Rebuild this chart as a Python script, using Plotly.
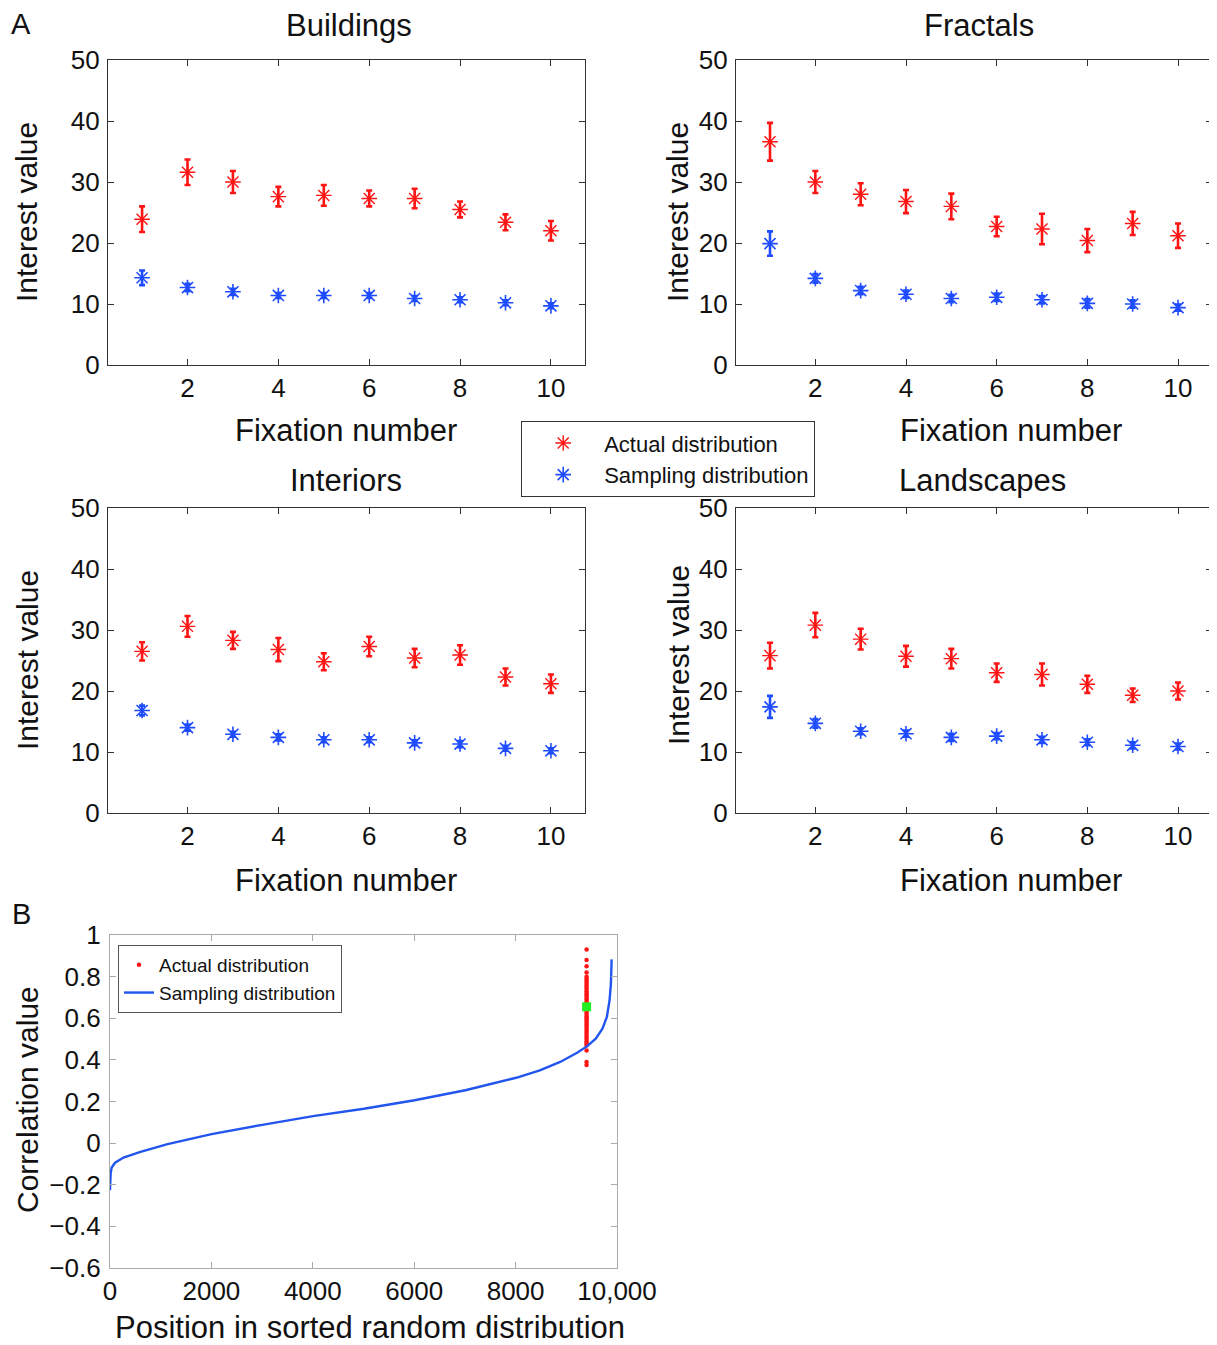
import plotly.graph_objects as go

# The page body has an 8px margin, so the figure is sized and laid out
# in screenshot pixels minus that offset.
OFF = 8
W, H = 1217 - OFF, 1345 - OFF
FONT = "Liberation Sans, Arial, Helvetica, sans-serif"
RED = "#ff1414"
BLUE = "#1f4cff"

fixation = [1, 2, 3, 4, 5, 6, 7, 8, 9, 10]

buildings_actual = [23.9, 31.6, 30.0, 27.6, 27.8, 27.3, 27.3, 25.5, 23.4, 22.0]
buildings_actual_err = [2.1, 2.1, 1.8, 1.6, 1.7, 1.3, 1.6, 1.3, 1.3, 1.6]
buildings_sampling = [14.3, 12.7, 12.0, 11.4, 11.4, 11.4, 10.9, 10.7, 10.2, 9.7]
buildings_sampling_err = [1.2, 0.6, 0.5, 0.4, 0.4, 0.4, 0.4, 0.4, 0.4, 0.4]

fractals_actual = [36.6, 30.0, 28.0, 26.8, 26.0, 22.7, 22.3, 20.4, 23.2, 21.2]
fractals_actual_err = [3.1, 1.8, 1.8, 1.9, 2.1, 1.6, 2.5, 1.9, 1.9, 2.0]
fractals_sampling = [19.9, 14.2, 12.2, 11.6, 10.9, 11.1, 10.7, 10.1, 10.0, 9.4]
fractals_sampling_err = [2.0, 0.7, 0.6, 0.6, 0.6, 0.6, 0.6, 0.7, 0.6, 0.5]

interiors_actual = [26.5, 30.6, 28.3, 26.8, 24.8, 27.3, 25.4, 25.9, 22.3, 21.2]
interiors_actual_err = [1.5, 1.7, 1.4, 1.9, 1.4, 1.6, 1.5, 1.6, 1.4, 1.5]
interiors_sampling = [16.8, 14.0, 12.9, 12.4, 12.0, 12.0, 11.5, 11.3, 10.6, 10.2]
interiors_sampling_err = [0.8, 0.5, 0.4, 0.5, 0.4, 0.4, 0.4, 0.5, 0.4, 0.4]

landscapes_actual = [25.8, 30.8, 28.5, 25.7, 25.3, 23.0, 22.7, 21.1, 19.3, 20.0]
landscapes_actual_err = [2.1, 2.0, 1.7, 1.7, 1.6, 1.5, 1.8, 1.4, 1.1, 1.4]
landscapes_sampling = [17.4, 14.7, 13.4, 13.0, 12.4, 12.6, 12.0, 11.6, 11.1, 10.9]
landscapes_sampling_err = [1.8, 0.7, 0.5, 0.5, 0.6, 0.5, 0.5, 0.5, 0.5, 0.5]

panel_titles = ["Buildings", "Fractals", "Interiors", "Landscapes"]
y_ticks_a = [0, 10, 20, 30, 40, 50]
x_ticks_a = [2, 4, 6, 8, 10]

# Panel B: sorted random (sampling) distribution of correlation values
curve_position = [0, 13, 33, 100, 267, 601, 1135, 2003, 3004, 4005, 5007, 6008,
                  7009, 8011, 8478, 8879, 9213, 9413, 9580, 9713, 9800, 9853, 9880, 9894]
curve_value = [-0.226, -0.146, -0.117, -0.094, -0.069, -0.042, -0.005, 0.043, 0.088,
               0.130, 0.165, 0.206, 0.254, 0.314, 0.350, 0.390, 0.434, 0.466, 0.502,
               0.550, 0.606, 0.686, 0.766, 0.883]
actual_position = 9400
actual_corr = [0.93, 0.88, 0.85, 0.82, 0.80, 0.79, 0.78, 0.77, 0.76, 0.75, 0.74, 0.73,
               0.72, 0.71, 0.70, 0.69, 0.68, 0.67, 0.66, 0.65, 0.64, 0.63, 0.62, 0.61,
               0.60, 0.59, 0.58, 0.57, 0.56, 0.55, 0.54, 0.53, 0.52, 0.51, 0.50, 0.49,
               0.48, 0.47, 0.445, 0.39, 0.375]
actual_mean = 0.655
y_ticks_b = [-0.6, -0.4, -0.2, 0, 0.2, 0.4, 0.6, 0.8, 1]
y_ticktext_b = ["\u22120.6", "\u22120.4", "\u22120.2", "0", "0.2", "0.4", "0.6", "0.8", "1"]
x_ticks_b = [0, 2000, 4000, 6000, 8000, 10000]
x_ticktext_b = ["0", "2000", "4000", "6000", "8000", "10,000"]


def px_x(p):
    return (p - OFF) / W


def px_y(p):
    return 1 - (p - OFF) / H


panels = [
    (buildings_actual, buildings_actual_err, buildings_sampling, buildings_sampling_err),
    (fractals_actual, fractals_actual_err, fractals_sampling, fractals_sampling_err),
    (interiors_actual, interiors_actual_err, interiors_sampling, interiors_sampling_err),
    (landscapes_actual, landscapes_actual_err, landscapes_sampling, landscapes_sampling_err),
]
# pixel boxes in screenshot coordinates (left, right, top, bottom)
boxes = [(108, 585, 60, 365), (736, 1212, 60, 365), (108, 585, 508, 813), (736, 1212, 508, 813)]

fig = go.Figure()

for i, (act, act_e, samp, samp_e) in enumerate(panels):
    n = "" if i == 0 else str(i + 1)
    fig.add_trace(go.Scatter(
        x=fixation, y=act, mode="markers", name="Actual distribution",
        xaxis="x" + n, yaxis="y" + n, showlegend=(i == 0), legend="legend",
        marker=dict(symbol="asterisk-open", size=13, color=RED, line=dict(color=RED, width=1.4)),
        error_y=dict(type="data", array=act_e, color=RED, thickness=2.6, width=3),
    ))
    fig.add_trace(go.Scatter(
        x=fixation, y=samp, mode="markers", name="Sampling distribution",
        xaxis="x" + n, yaxis="y" + n, showlegend=(i == 0), legend="legend",
        marker=dict(symbol="asterisk-open", size=13, color=BLUE, line=dict(color=BLUE, width=1.6)),
        error_y=dict(type="data", array=samp_e, color=BLUE, thickness=2.6, width=3),
    ))

# Panel B
fig.add_trace(go.Scatter(
    x=[actual_position] * len(actual_corr), y=actual_corr, mode="markers",
    name="Actual distribution", xaxis="x5", yaxis="y5", legend="legend2",
    marker=dict(symbol="circle", size=4.5, color=RED),
))
fig.add_trace(go.Scatter(
    x=curve_position, y=curve_value, mode="lines", name="Sampling distribution",
    xaxis="x5", yaxis="y5", legend="legend2",
    line=dict(color="#2255ee", width=2.4),
))
fig.add_trace(go.Scatter(
    x=[actual_position], y=[actual_mean], mode="markers", showlegend=False,
    xaxis="x5", yaxis="y5",
    marker=dict(symbol="square", size=9, color="#22ee22"),
))

axis_common = dict(
    showline=True, mirror="ticks", linecolor="#333", linewidth=1.2,
    ticks="inside", ticklen=6, tickcolor="#333", tickwidth=1,
    showgrid=False, zeroline=False, automargin=False,
    tickfont=dict(family=FONT, size=26, color="#111"),
)

layout = dict(
    width=W, height=H, margin=dict(l=0, r=0, t=0, b=0, pad=0, autoexpand=False),
    paper_bgcolor="white", plot_bgcolor="white",
    font=dict(family=FONT, color="#111"),
)

for i, (l, r, t, b) in enumerate(boxes):
    n = "" if i == 0 else str(i + 1)
    layout["xaxis" + n] = dict(
        axis_common, domain=[px_x(l), px_x(r)], range=[0.25, 10.75],
        tickvals=x_ticks_a, anchor="y" + n, ticklabelstandoff=0,
    )
    layout["yaxis" + n] = dict(
        axis_common, domain=[px_y(b), px_y(t)], range=[0, 50],
        tickvals=y_ticks_a, anchor="x" + n, ticklabelstandoff=2,
    )

layout["xaxis5"] = dict(
    axis_common, domain=[px_x(110), px_x(617)], range=[0, 10000],
    tickvals=x_ticks_b, ticktext=x_ticktext_b, anchor="y5", linecolor="#aaa",
    tickcolor="#aaa", ticklabelstandoff=0,
)
layout["yaxis5"] = dict(
    axis_common, domain=[px_y(1268), px_y(935)], range=[-0.6, 1.0],
    tickvals=y_ticks_b, ticktext=y_ticktext_b, anchor="x5", linecolor="#aaa",
    tickcolor="#aaa", ticklabelstandoff=3,
)

layout["legend"] = dict(
    x=px_x(521), y=px_y(421), xanchor="left", yanchor="top",
    bordercolor="#333", borderwidth=1.2, bgcolor="white",
    font=dict(family=FONT, size=22, color="#111"), itemwidth=72,
    tracegroupgap=0,
)
layout["legend2"] = dict(
    x=px_x(118), y=px_y(945), xanchor="left", yanchor="top",
    bordercolor="#555", borderwidth=1, bgcolor="white",
    font=dict(family=FONT, size=19, color="#111"), itemwidth=30,
    tracegroupgap=0,
)

annotations = []


def ann(text, x, y, size=31, angle=0, xanchor="center"):
    annotations.append(dict(
        text=text, x=px_x(x), y=px_y(y), xref="paper", yref="paper",
        showarrow=False, textangle=angle, xanchor=xanchor, yanchor="middle",
        font=dict(family=FONT, size=size, color="#111"),
    ))


title_pos = [(349, 25), (979, 25), (346, 480), (983, 480)]
for name, (x, y) in zip(panel_titles, title_pos):
    ann(name, x, y)
for x, y in [(346, 430), (1011, 430), (346, 880), (1011, 880)]:
    ann("Fixation number", x, y)
for x, y in [(27, 212), (678, 212), (27, 660), (678, 655)]:
    ann("Interest value", x, y, size=30, angle=-90)
ann("A", 21, 24, size=29)
ann("B", 21, 914, size=29)
ann("Correlation value", 27, 1100, size=30, angle=-90)
ann("Position in sorted random distribution", 370, 1327)

layout["annotations"] = annotations
fig.update_layout(**layout)
fig.write_html("out.html")
